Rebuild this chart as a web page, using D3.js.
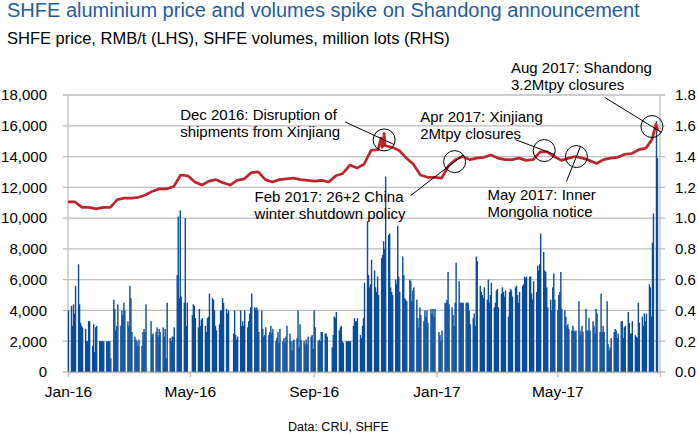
<!DOCTYPE html>
<html>
<head>
<meta charset="utf-8">
<script src="https://cdn.jsdelivr.net/npm/d3@7"></script>
<style>
  body { margin: 0; background: #fff; }
  text { font-family: "Liberation Sans", Arial, sans-serif; }
</style>
</head>
<body>
<script>
var width = 698, height = 434
var margin = {top: 95, right: 38, bottom: 62, left: 68}

// SHFE volumes, million lots, one value per weekday of each month (0 = no bar)
var vol1601 = [0.40,0.43,0.30,0.44,0.38,0.56,0.70,0.44,0.32,0.30,0.29,0.28,0.20,0.20,0.33,0.33,0.17,0.31,0.13,0.29,0.30]
var vol1602 = [0.20,0.20,0.20,0.20,0.20,0.20,0.20,0.20,0.20,0.09,0.47,0.41,0.27,0.30,0.44,0.30,0.40,0.37,0.45,0.40,0.33]
var vol1603 = [0.30,0.56,0.48,0.26,0.23,0.21,0.20,0.17,0.21,0.17,0.26,0.28,0.26,0.44,0,0,0.33,0.24,0.25,0.26,0.29,0.23,0.28]
var vol1604 = [0.26,0.29,0.23,0.28,0.09,0.45,0.22,0.20,0.23,0.23,0.29,0.63,1.01,0.48,1.05,0.49,0.45,1.00,0.30,0.45,0]
var vol1605 = [0,0.37,0.44,0.43,0.35,0.29,0.41,0.30,0.34,0.35,0.30,0.26,0.35,0.36,0.51,0.48,0.47,0.40,0.30,0.27,0.31,0.40]
var vol1606 = [0.40,0.48,0.45,0.41,0.38,0.40,0,0,0.25,0.40,0.24,0.21,0.23,0.40,0.30,0.33,0.30,0.40,0.29,0.33,0.38,0.42]
var vol1607 = [0.51,0.42,0.41,0.42,0.40,0.26,0.40,0.28,0.23,0.24,0.29,0.24,0.26,0.30,0.25,0.28,0.20,0.22,0.26,0.19,0.28]
var vol1608 = [0.20,0.22,0.19,0.23,0.30,0.25,0.20,0.14,0.20,0.21,0.22,0.40,0.16,0.31,0.21,0.20,0.18,0.21,0.18,0.23,0.23,0.24,0.15]
var vol1609 = [0.40,0.29,0.20,0.21,0.20,0.26,0.26,0.25,0.25,0.23,0,0,0.16,0.24,0.36,0.35,0.39,0.27,0.29,0.30,0.20,0.19]
var vol1610 = [0.20,0.20,0.20,0.20,0.20,0.30,0.35,0.33,0.33,0.35,0.24,0.22,0.30,0.35,0.58,0.98,0.63,0.55,0.57,0.73,0.66]
var vol1611 = [0.55,0.52,0.62,0.50,0.74,0.76,0.85,0.80,1.27,0.89,0.90,0.55,0.52,0.50,0.60,0.57,0.95,0.62,0.52,0.75,0.63,0.48]
var vol1612 = [0.47,0.46,0.60,0.59,0.46,0.53,0.55,0.47,0.35,0.29,0.42,0.37,0.33,0.40,0.36,0.40,0.32,0.41,0.38,0.41,0.36,0.41]
var vol1701 = [0,0.26,0.24,0.20,0.27,0.45,0.45,0.47,0.65,0.44,0.42,0.37,0.30,0.45,0.71,0.59,0.45,0.45,0.45,0.45,0.45,0.45]
var vol1702 = [0.45,0.40,0.31,0.35,0.38,0.30,0.75,0.72,0.56,0.52,0.50,0.48,0.55,0.47,0.60,0.45,0.50,0.58,0.42,0.45]
var vol1703 = [0.53,0.54,0.42,0.51,0.55,0.52,0.49,0.53,0.36,0.52,0.54,0.53,0.49,0.55,0.56,0.50,0.45,0.52,0.56,0.57,0.62,0.61,0.62]
var vol1704 = [0.62,0.62,0.51,0.47,0.59,0.52,0.69,0.66,0.70,0.90,0.78,0.66,0.65,0.55,0.42,0.47,0.40,0.55,0.64,0.47]
var vol1705 = [0.40,0.50,0.52,0.65,0.41,0.40,0.36,0.30,0.31,0.28,0.27,0.30,0.27,0.26,0.27,0.46,0.27,0.24,0.30,0.26,0.41,0.27,0.27]
var vol1706 = [0.35,0.27,0.33,0.30,0.25,0.41,0.38,0.26,0.51,0.26,0.30,0.26,0.46,0.18,0.14,0.16,0.22,0.26,0.28,0.27,0.22,0.25]
var vol1707 = [0.33,0.33,0.22,0.29,0.30,0.39,0.32,0.25,0.25,0.33,0.24,0.23,0.22,0.45,0.32,0.36,0.30,0.38,0.33,0.38,0.57]
var vol1708 = [0.55,0.36,0.84,1.03,1.63,1.39]

var volMonths = ["2016-01","2016-02","2016-03","2016-04","2016-05","2016-06","2016-07","2016-08","2016-09","2016-10","2016-11","2016-12",
                 "2017-01","2017-02","2017-03","2017-04","2017-05","2017-06","2017-07","2017-08"]
var volByMonth = [vol1601,vol1602,vol1603,vol1604,vol1605,vol1606,vol1607,vol1608,vol1609,vol1610,vol1611,vol1612,
                  vol1701,vol1702,vol1703,vol1704,vol1705,vol1706,vol1707,vol1708]

// SHFE price, RMB/t
var priceDates = ["2016-01-01","2016-01-08","2016-01-15","2016-01-22","2016-01-29","2016-02-05","2016-02-12","2016-02-19","2016-02-26",
  "2016-03-04","2016-03-11","2016-03-18","2016-03-25","2016-04-01","2016-04-08","2016-04-15","2016-04-22","2016-04-29",
  "2016-05-06","2016-05-13","2016-05-20","2016-05-27","2016-06-03","2016-06-10","2016-06-17","2016-06-24","2016-07-01",
  "2016-07-08","2016-07-15","2016-07-22","2016-07-29","2016-08-05","2016-08-12","2016-08-19","2016-08-26","2016-09-02",
  "2016-09-09","2016-09-16","2016-09-23","2016-09-30","2016-10-07","2016-10-14","2016-10-21","2016-10-28","2016-11-04",
  "2016-11-07","2016-11-08","2016-11-09","2016-11-10","2016-11-11","2016-11-18","2016-11-25","2016-12-02","2016-12-09",
  "2016-12-16","2016-12-23","2016-12-30","2017-01-06","2017-01-13","2017-01-20","2017-01-27","2017-02-03","2017-02-10",
  "2017-02-17","2017-02-24","2017-03-03","2017-03-10","2017-03-17","2017-03-24","2017-03-31","2017-04-07","2017-04-14",
  "2017-04-21","2017-04-28","2017-05-05","2017-05-12","2017-05-19","2017-05-26","2017-06-02","2017-06-09","2017-06-16",
  "2017-06-23","2017-06-30","2017-07-07","2017-07-14","2017-07-21","2017-07-28","2017-08-03","2017-08-07","2017-08-08","2017-08-09"]
var priceValues = [11050,11050,10700,10700,10600,10700,10700,11200,11300,
  11300,11350,11500,11750,11900,11900,12050,12800,12750,
  12350,12150,12400,12500,12300,12150,12450,12550,12950,
  13000,12500,12350,12500,12550,12600,12500,12450,12400,
  12450,12350,12750,12900,13450,13250,13500,14400,14450,
  15200,14600,14700,15500,14700,14600,14400,13900,13500,
  12800,12650,12650,12600,13400,13800,14000,13800,13900,
  13950,14100,13900,13800,13800,13900,13750,13800,14300,
  14300,14000,13750,13900,14000,13900,13750,13550,13800,
  13900,13950,14150,14200,14450,14550,15100,16100,15900,15650]

var leftTicks = [0,2000,4000,6000,8000,10000,12000,14000,16000,18000]
var rightTicks = [0,0.2,0.4,0.6,0.8,1.0,1.2,1.4,1.6,1.8]

var notes = [
  {date: "2016-11-10", value: 15080, lines: ["Dec 2016: Disruption of", "shipments from Xinjiang"]},
  {date: "2017-01-19", value: 13670, lines: ["Feb 2017: 26+2 China", "winter shutdown policy"]},
  {date: "2017-04-18", value: 14390, lines: ["Apr 2017: Xinjiang", "2Mtpy closures"]},
  {date: "2017-05-20", value: 14000, lines: ["May 2017: Inner", "Mongolia notice"]},
  {date: "2017-08-03", value: 15950, lines: ["Aug 2017: Shandong", "3.2Mtpy closures"]}
]
// label offsets from the circle: text start and leader start
var noteLayout = [
  {dx: -204, dy: -20, lx: -39, ly: -18},
  {dx: -200, dy: 40, lx: -44, ly: 34},
  {dx: -124, dy: -29, lx: -29, ly: -11},
  {dx: -89, dy: 43, lx: -10, ly: 25},
  {dx: -141, dy: -54, lx: -47, ly: -29}
]

var parse = d3.timeParse("%Y-%m-%d")
var parseMonth = d3.timeParse("%Y-%m")

var volumes = []
volMonths.forEach(function(m, i) {
  var start = parseMonth(m)
  var days = d3.timeDay.range(start, d3.timeMonth.offset(start, 1)).filter(function(d) { return d.getDay() % 6 != 0 })
  volByMonth[i].forEach(function(v, j) {
    if (days[j] && v > 0) volumes.push({date: days[j], value: v})
  })
})

var prices = priceDates.map(function(d, i) { return {date: parse(d), value: priceValues[i]} })

var x = d3.scaleTime()
    .domain([new Date(2016, 0, 1), new Date(2017, 7, 11)])
    .range([margin.left, width - margin.right])

var yL = d3.scaleLinear().domain([0, 18000]).range([height - margin.bottom, margin.top])
var yR = d3.scaleLinear().domain([0, 1.8]).range([height - margin.bottom, margin.top])

var svg = d3.select("body").append("svg")
    .attr("width", width)
    .attr("height", height)

var grey = "#bdbdbd"

// gridlines
svg.append("g").selectAll("line")
    .data(leftTicks)
  .enter().append("line")
    .attr("x1", margin.left - 5)
    .attr("x2", width - margin.right + 5)
    .attr("y1", function(d) { return yL(d) })
    .attr("y2", function(d) { return yL(d) })
    .attr("stroke", grey)
    .attr("stroke-width", 1.3)

svg.append("line")
    .attr("x1", margin.left).attr("x2", margin.left)
    .attr("y1", margin.top).attr("y2", height - margin.bottom)
    .attr("stroke", grey).attr("stroke-width", 1.3)
svg.append("line")
    .attr("x1", width - margin.right).attr("x2", width - margin.right)
    .attr("y1", margin.top).attr("y2", height - margin.bottom)
    .attr("stroke", grey).attr("stroke-width", 1.3)

// volume bars
svg.append("g").selectAll("rect")
    .data(volumes)
  .enter().append("rect")
    .attr("x", function(d) { return x(d.date) - 0.2 })
    .attr("width", function(d) { return x(d3.timeDay.offset(d.date, 1)) - x(d.date) + 0.4 })
    .attr("y", function(d) { return yR(d.value) })
    .attr("height", function(d) { return yR(0) - yR(d.value) })
    .attr("fill", "#0a4c9a")

// price line
var line = d3.line()
    .x(function(d) { return x(d.date) })
    .y(function(d) { return yL(d.value) })

svg.append("path")
    .datum(prices)
    .attr("d", line)
    .attr("fill", "none")
    .attr("stroke", "#bd252b")
    .attr("stroke-width", 2.7)
    .attr("stroke-linejoin", "round")

// axes
var left = svg.append("g")
    .attr("transform", "translate(" + margin.left + ",0)")
    .call(d3.axisLeft(yL).tickValues(leftTicks).tickFormat(d3.format(",")).tickSize(0).tickPadding(21))
left.select(".domain").remove()

var right = svg.append("g")
    .attr("transform", "translate(" + (width - margin.right) + ",0)")
    .call(d3.axisRight(yR).tickValues(rightTicks).tickFormat(d3.format(".1f")).tickSize(0).tickPadding(15))
right.select(".domain").remove()

var bottom = svg.append("g")
    .attr("transform", "translate(0," + (height - margin.bottom) + ")")
    .call(d3.axisBottom(x).ticks(d3.timeMonth.every(4)).tickFormat(d3.timeFormat("%b-%y")).tickSize(5))
bottom.select(".domain").attr("stroke", grey).attr("stroke-width", 1.3)
bottom.selectAll(".tick line").attr("stroke", grey).attr("stroke-width", 1.3)
bottom.selectAll(".tick text").attr("y", 25).attr("dy", 0).style("font-size", "15.5px")

svg.selectAll(".tick text")
    .attr("fill", "#000")
    .style("font-family", '"Liberation Sans", Arial, sans-serif')
left.selectAll(".tick text").style("font-size", "15px")
right.selectAll(".tick text").style("font-size", "15px")

// annotations
var r = 11
notes.forEach(function(n, i) {
  var cx = x(parse(n.date)), cy = yL(n.value), l = noteLayout[i]
  var sx = cx + l.lx, sy = cy + l.ly
  var dist = Math.sqrt(l.lx * l.lx + l.ly * l.ly)
  svg.append("line")
      .attr("x1", sx).attr("y1", sy)
      .attr("x2", cx - l.lx / dist * r).attr("y2", cy - l.ly / dist * r)
      .attr("stroke", "#000").attr("stroke-width", 1)
  svg.append("circle")
      .attr("cx", cx).attr("cy", cy).attr("r", r)
      .attr("fill", "none").attr("stroke", "#000").attr("stroke-width", 1)
  var t = svg.append("text")
      .attr("x", cx + l.dx).attr("y", cy + l.dy)
      .style("font-size", "15px")
  n.lines.forEach(function(s, k) {
    t.append("tspan").attr("x", cx + l.dx).attr("dy", k ? 17.5 : 0).text(s)
  })
})

// titles
svg.append("text")
    .attr("x", 7).attr("y", 17)
    .attr("fill", "#1f5ca6")
    .style("font-size", "20px")
    .text("SHFE aluminium price and volumes spike on Shandong announcement")

svg.append("text")
    .attr("x", 7).attr("y", 44)
    .style("font-size", "16.5px")
    .text("SHFE price, RMB/t (LHS), SHFE volumes, million lots (RHS)")

svg.append("text")
    .attr("x", 288).attr("y", 431)
    .style("font-size", "12.5px")
    .text("Data: CRU, SHFE")
</script>
</body>
</html>
